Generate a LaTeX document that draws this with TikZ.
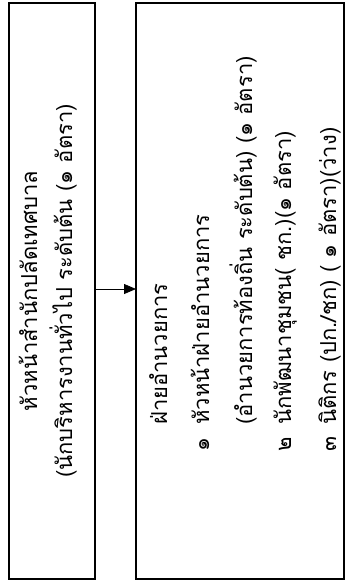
\documentclass[tikz,border=0pt]{standalone}
\usepackage{fontspec}
\newfontfamily\thaifont[Script=Thai]{Loma}
\usetikzlibrary{arrows.meta}
\begin{document}
\begin{tikzpicture}[x=1pt,y=-1pt,
  box/.style={draw, line width=1.8pt, inner sep=0pt, outer sep=0pt, anchor=north west},
  txt/.style={font=\thaifont\fontsize{22}{26}\selectfont, rotate=90, inner sep=0pt},
  ltxt/.style={txt, anchor=base west},
  link/.style={-{Triangle[length=12pt,width=10pt]}, line width=0.8pt}]
\useasboundingbox (0,0) rectangle (346,584);
\node[box, minimum width=86pt, minimum height=576pt] (boss) at (9,3) {};
\node[box, minimum width=208pt, minimum height=576pt] (unit) at (136,3) {};
\draw[link] (boss.east |- 0,289) coordinate (a0) -- (unit.west |- a0);
\node[txt, anchor=base] (b1) at (37,291) {หัวหน้าสำนักปลัดเทศบาล};
\node[txt, anchor=base] (b2) at (72,291) {(นักบริหารงานทั่วไป ระดับต้น (๑ อัตรา)};
\node[ltxt] (u0) at (167,425) {ฝ่ายอำนวยการ};
\node[ltxt] (n1) at (209,452) {๑};
\node[ltxt] (u1) at (209,425) {หัวหน้าฝ่ายอำนวยการ};
\node[ltxt] (u2) at (252,425) {(อำนวยการท้องถิ่น ระดับต้น) (๑ อัตรา)};
\node[ltxt] (n3) at (291,452) {๒};
\node[ltxt] (u3) at (291,425) {นักพัฒนาชุมชน( ชก.)(๑ อัตรา)};
\node[ltxt] (n4) at (336,452) {๓};
\node[ltxt] (u4) at (336,425) {นิติกร (ปก./ชก) ( ๑ อัตรา)(ว่าง)};
\end{tikzpicture}
\end{document}
